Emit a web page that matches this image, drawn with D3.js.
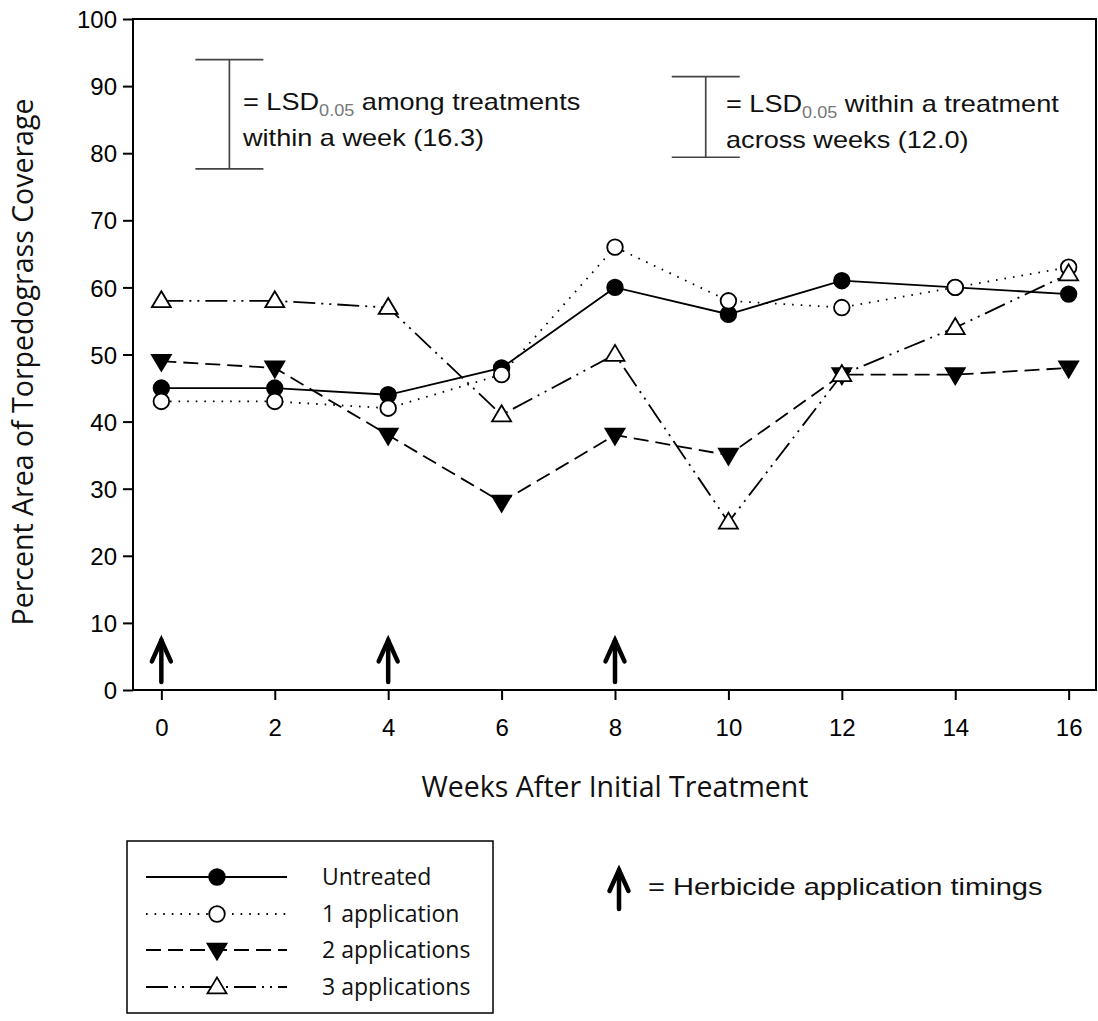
<!DOCTYPE html>
<html>
<head>
<meta charset="utf-8">
<script src="https://cdn.jsdelivr.net/npm/d3@7/dist/d3.min.js"></script>
<style>
  html, body { margin: 0; padding: 0; background: #fff; }
  svg { display: block; }
</style>
</head>
<body>
<svg id="chart" width="1098" height="1021"></svg>
<script>
// ---- data ----
const weeks = [0, 2, 4, 6, 8, 10, 12, 14, 16];
const seriesNames = ["Untreated", "1 application", "2 applications", "3 applications"];
const untreated = [45, 45, 44, 48, 60, 56, 61, 60, 59];
const oneApp    = [43, 43, 42, 47, 66, 58, 57, 60, 63];
const twoApp    = [49, 48, 38, 28, 38, 35, 47, 47, 48];
const threeApp  = [58, 58, 57, 41, 50, 25, 47, 54, 62];
const xTicks = [0, 2, 4, 6, 8, 10, 12, 14, 16];
const yTicks = [0, 10, 20, 30, 40, 50, 60, 70, 80, 90, 100];
const applicationWeeks = [0, 4, 8];
const arrowRange = [1.2, 7.7];
const lsdAmong = { week: 1.2, center: 85.8, lsd: 16.3 };
const lsdWithin = { week: 9.6, center: 85.4, lsd: 12.0 };

(function () {
const svg = d3.select("#chart");
const pLeft = 133, pRight = 1097, pTop = 19, pBottom = 690;

const x = d3.scaleLinear().domain([-0.5, 16.5]).range([pLeft, pRight]);
const y = d3.scaleLinear().domain([0, 100]).range([pBottom, pTop]);

const tickFont = "'Liberation Sans', Arial, sans-serif";
const labelFont = "'Open Sans', 'Noto Sans', sans-serif";

// frame
svg.append("rect")
  .attr("x", pLeft).attr("y", pTop)
  .attr("width", pRight - pLeft - 1).attr("height", pBottom - pTop)
  .attr("fill", "none").attr("stroke", "#000").attr("stroke-width", 2);

// axes
const yAxis = svg.append("g").attr("transform", `translate(${pLeft},0)`)
  .call(d3.axisLeft(y).tickValues(yTicks).tickSize(10).tickPadding(6).tickSizeOuter(0));
const xAxis = svg.append("g").attr("transform", `translate(0,${pBottom})`)
  .call(d3.axisBottom(x).tickValues(xTicks).tickSize(10).tickPadding(19).tickSizeOuter(0));
[yAxis, xAxis].forEach(a => {
  a.select(".domain").remove();
  a.selectAll("line").attr("stroke", "#000").attr("stroke-width", 2);
  a.selectAll("text").attr("font-family", tickFont).attr("font-size", 24).attr("fill", "#000");
});
yAxis.selectAll("text").attr("dy", "0.36em");

// axis titles
svg.append("text")
  .attr("transform", `translate(33,362) rotate(-90)`)
  .attr("text-anchor", "middle")
  .attr("font-family", labelFont).attr("font-size", 28.5).attr("fill", "#111")
  .text("Percent Area of Torpedograss Coverage");
svg.append("text")
  .attr("x", (pLeft + pRight) / 2).attr("y", 797)
  .attr("text-anchor", "middle")
  .attr("font-family", labelFont).attr("font-size", 28.5).attr("fill", "#111")
  .text("Weeks After Initial Treatment");

// series
const styles = [
  { values: untreated, dash: null, marker: "circle", fill: "#000" },
  { values: oneApp, dash: "1.6,7", marker: "circle", fill: "#fff" },
  { values: twoApp, dash: "15,7", marker: "down", fill: "#000" },
  { values: threeApp, dash: "22,6,2,6,2,6", marker: "up", fill: "#fff" }
];

const line = d3.line().x(d => x(d[0])).y(d => y(d[1]));

function drawMarker(g, type, fill, cx, cy) {
  if (type === "circle") {
    g.append("circle").attr("cx", cx).attr("cy", cy).attr("r", 7.8)
      .attr("fill", fill).attr("stroke", "#000").attr("stroke-width", 1.8);
  } else {
    const w = 9.5, h = 16;
    let pts;
    if (type === "up") pts = [[cx, cy - h * 0.6], [cx + w, cy + h * 0.4], [cx - w, cy + h * 0.4]];
    else pts = [[cx, cy + h * 0.6], [cx + w, cy - h * 0.4], [cx - w, cy - h * 0.4]];
    g.append("path").attr("d", "M" + pts.map(p => p.join(",")).join("L") + "Z")
      .attr("fill", fill).attr("stroke", "#000").attr("stroke-width", 1.8)
      .attr("stroke-linejoin", "miter");
  }
}

const drawOrder = [2, 0, 1, 3];
drawOrder.forEach(i => {
  const s = styles[i];
  const pts = weeks.map((w, j) => [w, s.values[j]]);
  svg.append("path").attr("d", line(pts))
    .attr("fill", "none").attr("stroke", "#000").attr("stroke-width", 1.8)
    .attr("stroke-dasharray", s.dash);
});
drawOrder.forEach(i => {
  const s = styles[i];
  const g = svg.append("g");
  weeks.forEach((w, j) => drawMarker(g, s.marker, s.fill, x(w), y(s.values[j])));
});

// application arrows
function arrow(cx, yBottom, yTip) {
  const g = svg.append("g").attr("stroke", "#000").attr("stroke-width", 4.5)
    .attr("fill", "none").attr("stroke-linecap", "round");
  g.append("line").attr("x1", cx).attr("x2", cx).attr("y1", yBottom).attr("y2", yTip + 2);
  g.append("path").attr("d", `M${cx - 9.5},${yTip + 23}L${cx},${yTip + 2}L${cx + 9.5},${yTip + 23}`)
    .attr("stroke-linejoin", "miter");
}
applicationWeeks.forEach(w => arrow(x(w), y(arrowRange[0]), y(arrowRange[1])));

// stretched text helper
function wideText(tx, ty, sx) {
  return svg.append("g").attr("transform", `translate(${tx},${ty}) scale(${sx},1)`)
    .append("text").attr("x", 0).attr("y", 0)
    .attr("font-family", tickFont).attr("font-size", 24).attr("fill", "#111");
}

// LSD bars
function lsdBar(obj, lines, tx, ty) {
  const cx = x(obj.week);
  const y1 = y(obj.center + obj.lsd / 2), y2 = y(obj.center - obj.lsd / 2);
  const g = svg.append("g").attr("stroke", "#444").attr("stroke-width", 1.7);
  g.append("line").attr("x1", cx).attr("x2", cx).attr("y1", y1).attr("y2", y2);
  g.append("line").attr("x1", cx - 34).attr("x2", cx + 34).attr("y1", y1).attr("y2", y1);
  g.append("line").attr("x1", cx - 34).attr("x2", cx + 34).attr("y1", y2).attr("y2", y2);
  const t = wideText(tx, ty, 1.13);
  t.append("tspan").text("= LSD");
  t.append("tspan").attr("font-size", 16).attr("dy", 6).attr("fill", "#777").text("0.05");
  t.append("tspan").attr("dy", -6).text(" " + lines[0]);
  wideText(tx, ty + 36, 1.13).text(lines[1]);
}
lsdBar(lsdAmong, ["among treatments", `within a week (${lsdAmong.lsd.toFixed(1)})`], 243, 110);
lsdBar(lsdWithin, ["within a treatment", `across weeks (${lsdWithin.lsd.toFixed(1)})`], 726, 112);

// legend box
svg.append("rect").attr("x", 127).attr("y", 841).attr("width", 366).attr("height", 172)
  .attr("fill", "none").attr("stroke", "#000").attr("stroke-width", 1.5);
const legendRows = [877, 914, 950, 987];
seriesNames.forEach((name, i) => {
  const s = styles[i];
  const ly = legendRows[i];
  svg.append("line").attr("x1", 146).attr("x2", 287).attr("y1", ly).attr("y2", ly)
    .attr("stroke", "#000").attr("stroke-width", 1.8).attr("stroke-dasharray", s.dash);
  drawMarker(svg.append("g"), s.marker, s.fill, 217, ly);
  svg.append("text").attr("x", 322).attr("y", ly + 8)
    .attr("font-family", labelFont).attr("font-size", 23).attr("fill", "#111")
    .text(name);
});

// herbicide legend
arrow(619, 909, 868);
wideText(648, 895, 1.21).text("= Herbicide application timings");
})();
</script>
</body>
</html>
